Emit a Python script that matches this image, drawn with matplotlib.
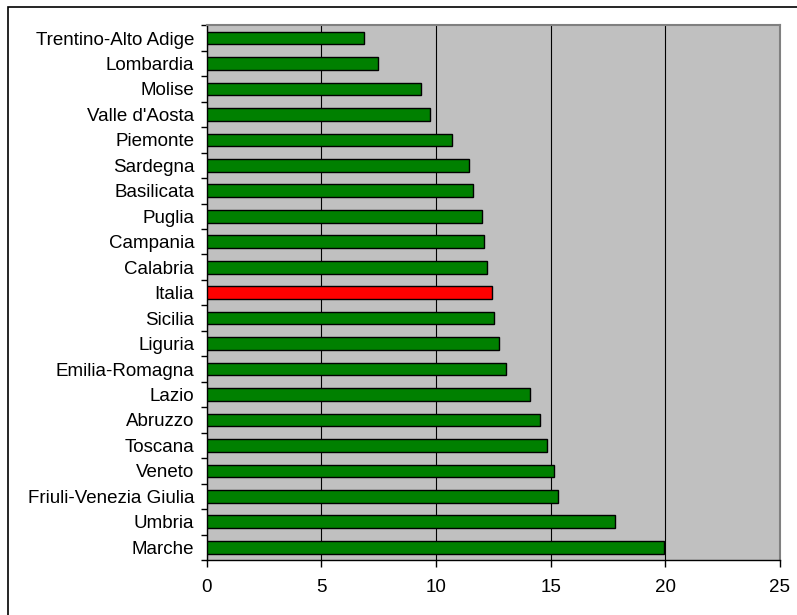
import matplotlib
matplotlib.use('Agg')
import matplotlib.pyplot as plt
from matplotlib.patches import Rectangle
import numpy as np

regions = ["Trentino-Alto Adige", "Lombardia", "Molise", "Valle d'Aosta", "Piemonte",
           "Sardegna", "Basilicata", "Puglia", "Campania", "Calabria", "Italia",
           "Sicilia", "Liguria", "Emilia-Romagna", "Lazio", "Abruzzo", "Toscana",
           "Veneto", "Friuli-Venezia Giulia", "Umbria", "Marche"]
values = [6.87, 7.47, 9.34, 9.72, 10.71, 11.45, 11.62, 11.99, 12.11, 12.21, 12.43,
          12.52, 12.75, 13.03, 14.09, 14.54, 14.85, 15.14, 15.31, 17.79, 19.96]
highlight = "Italia"

plt.rcParams['font.family'] = ['Liberation Sans', 'DejaVu Sans']

fig = plt.figure(figsize=(7.97, 6.15), dpi=100)
fig.patch.set_facecolor("white")

# outer frame (only top/left visible in original)
fig.patches.append(Rectangle((8 / 797, -0.1), 1.2, 1 - 7 / 615 + 0.1,
                             transform=fig.transFigure, fill=False,
                             edgecolor="black", linewidth=1.2, zorder=0))

ax = fig.add_axes([206.7 / 797, 1 - 560 / 615, (780 - 206.7) / 797, (560 - 25.3) / 615])
ax.set_facecolor("#C0C0C0")

y = np.arange(len(regions))
colors = ["#FF0000" if r == highlight else "#008000" for r in regions]
ax.barh(y, values, height=0.5, color=colors, edgecolor="black", linewidth=1.0, zorder=3)

ax.set_xlim(0, 25)
ax.set_ylim(len(regions) - 0.5, -0.5)
ax.set_xticks([0, 5, 10, 15, 20, 25])
ax.set_yticks(y)
ax.set_yticklabels(regions)
ax.set_yticks(np.arange(len(regions) + 1) - 0.5, minor=True)
ax.tick_params(axis="y", which="major", length=0, pad=9, labelsize=13.5)
ax.tick_params(axis="y", which="minor", length=4, direction="out", width=1)
ax.tick_params(axis="x", length=5, direction="out", width=1, pad=9, labelsize=13.5)

ax.grid(axis="x", color="black", linewidth=0.8, zorder=1)
ax.set_axisbelow(True)

for side in ["top", "right"]:
    ax.spines[side].set_color("#808080")
    ax.spines[side].set_linewidth(1.5)
for side in ["left", "bottom"]:
    ax.spines[side].set_color("black")
    ax.spines[side].set_linewidth(1.0)

fig.savefig("out.png", dpi=100)
